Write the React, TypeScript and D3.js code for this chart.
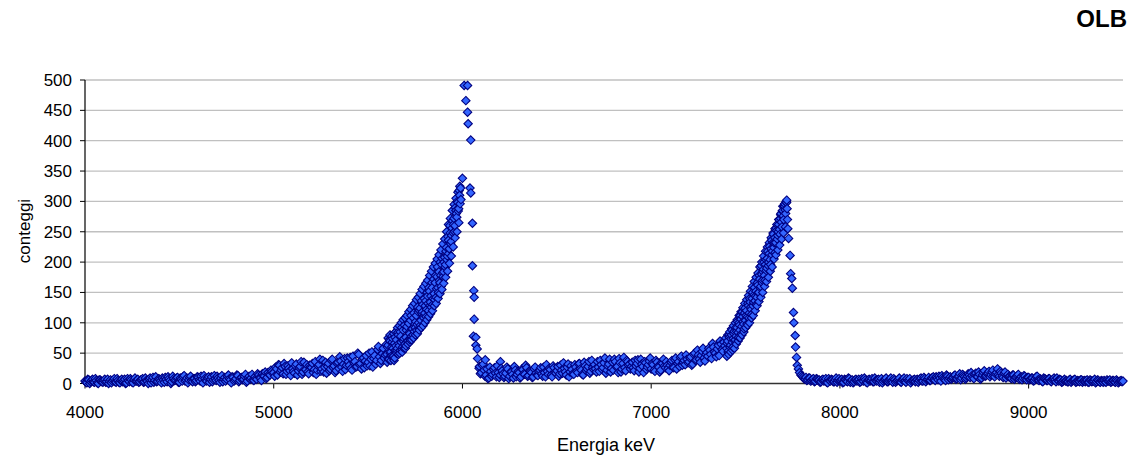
import React from "react";
import * as d3 from "d3";

// ---- data (energy in keV, counts) ----
// regular-grid segments: start energy, step, counts (interleaved channel sets per segment)
const lowStart = 4000, lowStep = 10;
const lowCounts = [
  4,1,6,3,7,2,5,0,6,3, 5,2,7,4,1,6,3,8,2,5, 3,7,1,5,8,2,6,4,7,3, 6,2,9,4,7,1,10,5,3,8,
  4,9,2,7,11,5,3,8,6,10, 2,7,11,4,9,6,12,3,8,5, 10,4,7,13,5,9,2,11,6,8, 12,5,9,3,10,7,14,6,11,4,
  8,13,5,10,7,15,4,12,9,6, 11,7,14,9,16,12,8,18,14,20,
];
const lowCountsB = [
  2,7,0,5,3,8,1,6,4,2, 7,3,0,6,4,8,2,5,1,7, 5,0,8,3,6,1,9,4,2,6, 8,3,5,0,9,6,2,11,4,7,
  1,6,10,3,8,0,12,5,9,2, 9,4,13,6,1,10,5,8,3,11, 6,12,1,8,4,11,7,3,13,5, 9,2,13,7,4,12,8,1,10,6,
  14,3,9,6,12,2,10,7,15,5, 8,16,10,5,13,19,10,15,22,17,
];
const shoulderStart = 5000, shoulderStep = 10;
const shoulderCounts = [
  18,27,14,30,22,16,28,20,25,13, 24,17,32,21,28,15,35,23,19,30, 26,18,36,22,31,20,38,27,17,33,
  24,40,29,21,35,44,27,32,23,42, 30,25,45,36,28,48,33,40,26,46, 35,29,52,41,32,56,44,38,58,47,
];
const shoulderCountsB = [
  12,24,31,19,26,33,15,29,21,34, 20,29,14,26,36,19,24,31,16,27, 33,23,15,29,40,24,19,35,28,21,
  38,26,18,33,25,37,20,41,30,36, 43,22,34,27,50,31,24,42,37,29, 50,40,27,46,38,61,33,49,42,64,
];
const rise1Start = 5600, rise1Step = 5;
const rise1Counts = [
  48,63,42,70,52,60,74,45,66,55, 72,58,80,62,85,68,56,88,74,65, 76,94,70,99,82,104,78,90,108,86,
  92,112,97,118,90,124,104,115,130,108, 116,136,122,144,120,152,134,126,158,140,
  148,166,142,176,158,184,166,178,196,182, 184,208,196,224,210,236,222,248,234,256,
  248,272,260,285,274,298,288,310,
];
const rise1CountsB = [
  60,40,72,50,45,68,58,38,76,62, 55,84,66,50,78,92,60,70,96,58, 88,70,100,84,72,112,90,80,116,98,
  102,88,126,100,120,96,136,118,110,140, 128,110,150,132,158,128,144,166,130,172,
  138,178,156,192,150,170,200,160,206,176, 200,192,218,204,242,214,260,230,244,268,
  262,250,290,280,300,284,318,296,
];
const rise1CountsC = [
  35,75,40,80,38,78,45,82,42,85, 50,92,48,95,55,100,52,105,58,108, 62,112,65,118,68,122,72,128,75,132,
  80,138,82,142,88,148,92,155,95,160, 100,165,105,170,110,178,115,185,120,192,
  128,198,132,205,140,212,148,220,155,230, 165,238,175,250,185,262,198,272,210,285,
  225,295,240,305,250,315,265,325,
];
// individual points around the 6 MeV peak
const peak1Energy = [5990,5992,6000,6009,6018,6027,6027,6030,6044,6040,6044,6053,6053,6060,6062,6062,6058,6071,6071,6078,6080,6088,6121,6201];
const peak1Counts = [322,303,338,491,466,491,447,428,401,322,314,264,194,153,142,106,78,76,63,57,41,25,39,36];
const valleyStart = 6090, valleyStep = 10;
const valleyCounts = [
  28,18,32,12,24,9,20,15,26,11,18, 14,21,10,17,24,12,19,9,22,15, 18,11,23,15,26,13,20,10,24,17,
  13,22,16,27,11,20,25,14,29,18, 21,12,30,17,25,14,32,19,23,15, 27,18,33,22,14,29,24,36,20,26,
  31,19,27,38,23,34,17,29,40,25, 22,36,28,41,19,33,26,38,30,24, 35,21,29,39,25,32,18,34,27,37,
  24,31,20,35,27,22,33,29,36,25, 30,38,26,42,33,28,45,35,31,40, 36,44,32,50,39,47,35,53,42,48,
  45,55,41,60,50,57,46,65,53,62,
];
const valleyCountsB = [
  16,30,22,14,8,27,12,23,17,29,10, 25,16,12,27,8,19,15,28,11,20, 9,24,16,30,12,21,18,11,27,14,
  20,26,12,18,31,15,23,11,26,17, 28,16,22,34,19,27,11,29,16,31, 20,32,24,15,35,21,28,17,38,23,
  24,36,20,31,26,42,22,32,19,35, 40,27,18,34,24,43,21,36,32,28, 26,38,33,19,40,28,36,23,31,42,
  33,22,38,28,19,34,40,26,30,21, 35,27,39,24,36,43,30,38,47,34, 42,30,48,38,55,40,46,58,37,51,
  58,48,66,52,44,63,70,56,68,75,
];
const rise2Start = 7400, rise2Step = 5;
const rise2Counts = [
  58,70,54,76,63,80,68,74,86,72, 78,92,84,100,88,106,94,110,98,116, 104,120,110,128,116,134,122,140,128,146,
  136,152,142,162,150,172,160,180,170,188, 178,196,186,206,194,214,204,222,212,232,
  224,240,232,252,244,262,254,272,266,284, 276,292,286,300,
];
const rise2CountsB = [
  66,52,80,60,74,88,60,82,70,92, 86,102,76,96,112,82,118,102,90,124, 112,98,132,108,140,126,114,150,134,158,
  144,130,166,150,178,158,194,166,184,200, 170,204,190,218,200,226,196,236,218,246,
  232,216,256,238,250,270,246,280,258,292, 270,296,280,298,
];
const rise2CountsC = [
  45,80,48,85,52,90,55,95,58,100, 65,105,70,112,75,118,80,125,85,132, 92,138,96,145,100,152,108,160,112,168,
  120,175,128,182,135,192,142,200,150,210, 160,218,168,225,175,232,185,240,192,248,
  205,255,212,262,220,270,228,278,238,285, 248,292,258,298,
];
// individual points on the falling edge of the 7.7 MeV peak
const peak2Energy = [7718,7720,7722,7724,7728,7736,7739,7745,7748,7754,7756,7763,7765,7770,7774,7780,7786,7793];
const peak2Counts = [302,288,270,255,239,211,181,173,157,117,100,79,60,43,30,24,18,14];
const tailStart = 7800, tailStep = 10;
const tailCounts = [
  12,8,10,6,9,5,8,4,7,6, 3,7,5,2,8,4,6,3,9,5, 4,7,2,6,3,8,5,1,6,4, 7,3,5,9,2,6,4,8,3,5,
  6,2,8,4,7,3,5,9,2,6, 4,7,3,6,9,2,5,8,4,6, 3,7,5,9,4,8,6,10,5,8, 7,11,6,9,13,8,5,12,9,7,
  10,14,8,12,6,15,11,9,16,10, 13,8,17,11,15,9,18,12,16,20, 14,22,11,18,15,20,12,17,9,15,
  12,8,14,10,13,7,11,9,12,6, 10,7,9,5,11,6,8,4,9,7, 5,8,3,7,6,9,4,6,3,7, 5,3,7,4,6,2,5,3,6,4,
  3,6,2,5,4,7,3,5,2,4, 5,2,4,6,3,5,2,4,3,5, 4,
];
const tailCountsB = [
  10,7,5,9,4,7,3,8,5,2, 6,4,8,1,5,7,3,6,2,8, 5,1,7,4,9,2,6,3,7,5, 2,8,4,6,1,7,5,3,9,4,
  7,5,1,6,9,3,7,4,8,2, 5,9,2,7,4,8,6,1,5,7, 6,2,8,4,10,3,7,5,9,11, 5,9,12,4,10,7,14,6,11,9,
  13,7,11,16,9,13,7,12,14,18, 10,15,12,19,7,14,21,13,17,11, 19,13,16,24,12,17,10,19,13,11,
  9,14,7,11,15,9,6,13,8,10, 6,9,4,8,12,5,7,3,8,5, 8,4,6,9,3,5,7,2,5,4, 3,6,2,5,7,3,4,6,2,5,
  5,2,6,3,4,1,6,3,5,2, 3,6,4,2,5,3,6,1,4,3,
];

const xTicks = [4000, 5000, 6000, 7000, 8000, 9000];
const yTicks = [0, 50, 100, 150, 200, 250, 300, 350, 400, 450, 500];
const title = "OLB";
const xTitle = "Energia keV";
const yTitle = "conteggi";

type P = [number, number];
const grid = (start: number, step: number, vals: number[]): P[] =>
  vals.map((v, i) => [start + i * step, v]);
const pairs = (es: number[], cs: number[]): P[] => es.map((e, i) => [e, cs[i]]);

const points: P[] = [
  ...grid(lowStart, lowStep, lowCounts),
  ...grid(lowStart + lowStep / 2, lowStep, lowCountsB),
  ...grid(shoulderStart, shoulderStep, shoulderCounts),
  ...grid(shoulderStart + shoulderStep / 2, shoulderStep, shoulderCountsB),
  ...grid(rise1Start, rise1Step, rise1Counts),
  ...grid(rise1Start + rise1Step / 2, rise1Step, rise1CountsB),
  ...grid(rise1Start + 1, rise1Step, rise1CountsC),
  ...pairs(peak1Energy, peak1Counts),
  ...grid(valleyStart, valleyStep, valleyCounts),
  ...grid(valleyStart + valleyStep / 2, valleyStep, valleyCountsB),
  ...grid(rise2Start, rise2Step, rise2Counts),
  ...grid(rise2Start + rise2Step / 2, rise2Step, rise2CountsB),
  ...grid(rise2Start + 1, rise2Step, rise2CountsC),
  ...pairs(peak2Energy, peak2Counts),
  ...grid(tailStart, tailStep, tailCounts),
  ...grid(tailStart + tailStep / 2, tailStep, tailCountsB),
].sort((a, b) => a[0] - b[0]);

const W = 1130, H = 457;
const left = 85, right = 1123, top = 80, bottom = 383.5;

export default function App() {
  const x = d3.scaleLinear().domain([4000, 9500]).range([left, right]);
  const y = d3.scaleLinear().domain([0, 500]).range([bottom, top]);
  const r = 4.2;
  const diamond = `M0,${-r}L${r},0L0,${r}L${-r},0Z`;
  const font = "'Liberation Sans', Arial, sans-serif";
  return (
    <svg width={W} height={H} style={{ position: "absolute", left: 0, top: 0, background: "#fff" }}
      fontFamily={font}>
      {yTicks.filter((t) => t > 0).map((t) => (
        <line key={"g" + t} x1={left} x2={right} y1={y(t)} y2={y(t)} stroke="#c0c0c0" strokeWidth={1.3} />
      ))}
      {yTicks.map((t) => (
        <g key={"y" + t}>
          <line x1={left - 5} x2={left} y1={y(t)} y2={y(t)} stroke="#000" strokeWidth={1} />
          <text x={72} y={y(t) + 6} textAnchor="end" fontSize={17} fill="#000">{t}</text>
        </g>
      ))}
      {xTicks.map((t) => (
        <g key={"x" + t}>
          <line x1={x(t)} x2={x(t)} y1={bottom} y2={bottom + 5} stroke="#000" strokeWidth={1} />
          <text x={x(t)} y={418} textAnchor="middle" fontSize={17} fill="#000">{t}</text>
        </g>
      ))}
      <line x1={left} x2={left} y1={top} y2={bottom} stroke="#000" strokeWidth={1.2} />
      <line x1={left} x2={right} y1={bottom} y2={bottom} stroke="#333" strokeWidth={1.5} />
      <g>
        {points.map(([e, c], i) => (
          <path key={i} d={diamond} transform={`translate(${x(e)},${y(c)})`}
            fill="#3366ff" stroke="#000080" strokeWidth={1.1} />
        ))}
      </g>
      <text x={606} y={451} textAnchor="middle" fontSize={18} fill="#000">{xTitle}</text>
      <text transform={`translate(29.5,231) rotate(-90)`} textAnchor="middle" fontSize={17} fill="#000">{yTitle}</text>
      <text x={1127} y={27} textAnchor="end" fontSize={24} fontWeight="bold" fill="#000">{title}</text>
    </svg>
  );
}
